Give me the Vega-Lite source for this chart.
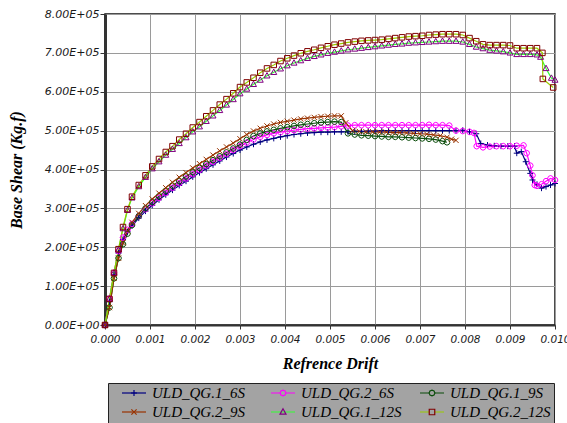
{
  "$schema": "https://vega.github.io/schema/vega-lite/v6.json",
  "width": 450,
  "height": 311,
  "autosize": {"type": "none"},
  "padding": {"left": 105, "top": 14, "right": 12, "bottom": 98},
  "background": "white",
  "config": {
    "view": {"stroke": "#111", "strokeWidth": 1.5},
    "axis": {
      "labelFont": "DejaVu Sans", "labelFontStyle": "italic", "labelFontSize": 10.5, "labelColor": "#1a1a1a",
      "titleFont": "Liberation Serif", "titleFontStyle": "italic", "titleFontWeight": "bold", "titleFontSize": 16, "titleColor": "#000",
      "gridColor": "#9a9a9a", "gridWidth": 1, "gridOpacity": 1,
      "tickColor": "#333", "domainColor": "#333"
    }
  },
  "resolve": {"legend": {"stroke": "independent", "shape": "independent"}},
  "data": {"values": [
{"s":"ULD_QG.1_6S","x":0,"y":0},{"s":"ULD_QG.1_6S","x":0.0001,"y":60000},{"s":"ULD_QG.1_6S","x":0.0002,"y":130000},{"s":"ULD_QG.1_6S","x":0.0003,"y":185000},{"s":"ULD_QG.1_6S","x":0.0004,"y":220000},{"s":"ULD_QG.1_6S","x":0.0005,"y":240000},{"s":"ULD_QG.1_6S","x":0.0006,"y":255000},{"s":"ULD_QG.1_6S","x":0.00075,"y":275000},{"s":"ULD_QG.1_6S","x":0.0009,"y":293000},{"s":"ULD_QG.1_6S","x":0.00105,"y":308000},{"s":"ULD_QG.1_6S","x":0.0012,"y":322000},{"s":"ULD_QG.1_6S","x":0.00135,"y":335000},{"s":"ULD_QG.1_6S","x":0.0015,"y":347000},{"s":"ULD_QG.1_6S","x":0.00165,"y":359000},{"s":"ULD_QG.1_6S","x":0.0018,"y":370000},{"s":"ULD_QG.1_6S","x":0.00195,"y":381000},{"s":"ULD_QG.1_6S","x":0.0021,"y":392000},{"s":"ULD_QG.1_6S","x":0.00225,"y":402000},{"s":"ULD_QG.1_6S","x":0.0024,"y":412000},{"s":"ULD_QG.1_6S","x":0.00255,"y":422000},{"s":"ULD_QG.1_6S","x":0.0027,"y":432000},{"s":"ULD_QG.1_6S","x":0.00285,"y":441000},{"s":"ULD_QG.1_6S","x":0.003,"y":450000},{"s":"ULD_QG.1_6S","x":0.00315,"y":458000},{"s":"ULD_QG.1_6S","x":0.0033,"y":465000},{"s":"ULD_QG.1_6S","x":0.00345,"y":471000},{"s":"ULD_QG.1_6S","x":0.0036,"y":476000},{"s":"ULD_QG.1_6S","x":0.00375,"y":480000},{"s":"ULD_QG.1_6S","x":0.0039,"y":484000},{"s":"ULD_QG.1_6S","x":0.00405,"y":487000},{"s":"ULD_QG.1_6S","x":0.0042,"y":490000},{"s":"ULD_QG.1_6S","x":0.00435,"y":492000},{"s":"ULD_QG.1_6S","x":0.0045,"y":494000},{"s":"ULD_QG.1_6S","x":0.00465,"y":495000},{"s":"ULD_QG.1_6S","x":0.0048,"y":496000},{"s":"ULD_QG.1_6S","x":0.00495,"y":496000},{"s":"ULD_QG.1_6S","x":0.0051,"y":497000},{"s":"ULD_QG.1_6S","x":0.00525,"y":497000},{"s":"ULD_QG.1_6S","x":0.0054,"y":497000},{"s":"ULD_QG.1_6S","x":0.00555,"y":498000},{"s":"ULD_QG.1_6S","x":0.0057,"y":498000},{"s":"ULD_QG.1_6S","x":0.00585,"y":499000},{"s":"ULD_QG.1_6S","x":0.006,"y":499000},{"s":"ULD_QG.1_6S","x":0.00615,"y":500000},{"s":"ULD_QG.1_6S","x":0.0063,"y":500000},{"s":"ULD_QG.1_6S","x":0.00645,"y":500000},{"s":"ULD_QG.1_6S","x":0.0066,"y":500000},{"s":"ULD_QG.1_6S","x":0.00675,"y":500000},{"s":"ULD_QG.1_6S","x":0.0069,"y":500000},{"s":"ULD_QG.1_6S","x":0.00705,"y":500000},{"s":"ULD_QG.1_6S","x":0.0072,"y":500000},{"s":"ULD_QG.1_6S","x":0.00735,"y":500000},{"s":"ULD_QG.1_6S","x":0.0075,"y":500000},{"s":"ULD_QG.1_6S","x":0.00765,"y":500000},{"s":"ULD_QG.1_6S","x":0.0078,"y":500000},{"s":"ULD_QG.1_6S","x":0.00795,"y":501000},{"s":"ULD_QG.1_6S","x":0.0081,"y":497000},{"s":"ULD_QG.1_6S","x":0.00825,"y":492000},{"s":"ULD_QG.1_6S","x":0.00835,"y":467000},{"s":"ULD_QG.1_6S","x":0.0085,"y":463000},{"s":"ULD_QG.1_6S","x":0.00865,"y":461000},{"s":"ULD_QG.1_6S","x":0.0088,"y":460000},{"s":"ULD_QG.1_6S","x":0.00895,"y":460000},{"s":"ULD_QG.1_6S","x":0.0091,"y":460000},{"s":"ULD_QG.1_6S","x":0.00915,"y":442000},{"s":"ULD_QG.1_6S","x":0.00925,"y":446000},{"s":"ULD_QG.1_6S","x":0.00935,"y":420000},{"s":"ULD_QG.1_6S","x":0.00945,"y":390000},{"s":"ULD_QG.1_6S","x":0.0095,"y":373000},{"s":"ULD_QG.1_6S","x":0.0096,"y":362000},{"s":"ULD_QG.1_6S","x":0.0097,"y":352000},{"s":"ULD_QG.1_6S","x":0.0098,"y":356000},{"s":"ULD_QG.1_6S","x":0.0099,"y":360000},{"s":"ULD_QG.1_6S","x":0.01,"y":364000},
{"s":"ULD_QG.2_6S","x":0,"y":0},{"s":"ULD_QG.2_6S","x":0.0001,"y":68000},{"s":"ULD_QG.2_6S","x":0.0002,"y":134000},{"s":"ULD_QG.2_6S","x":0.0003,"y":190000},{"s":"ULD_QG.2_6S","x":0.0004,"y":225000},{"s":"ULD_QG.2_6S","x":0.0005,"y":245000},{"s":"ULD_QG.2_6S","x":0.0006,"y":260000},{"s":"ULD_QG.2_6S","x":0.00075,"y":280000},{"s":"ULD_QG.2_6S","x":0.0009,"y":298000},{"s":"ULD_QG.2_6S","x":0.00105,"y":313000},{"s":"ULD_QG.2_6S","x":0.0012,"y":327000},{"s":"ULD_QG.2_6S","x":0.00135,"y":340000},{"s":"ULD_QG.2_6S","x":0.0015,"y":353000},{"s":"ULD_QG.2_6S","x":0.00165,"y":365000},{"s":"ULD_QG.2_6S","x":0.0018,"y":377000},{"s":"ULD_QG.2_6S","x":0.00195,"y":388000},{"s":"ULD_QG.2_6S","x":0.0021,"y":399000},{"s":"ULD_QG.2_6S","x":0.00225,"y":410000},{"s":"ULD_QG.2_6S","x":0.0024,"y":420000},{"s":"ULD_QG.2_6S","x":0.00255,"y":430000},{"s":"ULD_QG.2_6S","x":0.0027,"y":440000},{"s":"ULD_QG.2_6S","x":0.00285,"y":450000},{"s":"ULD_QG.2_6S","x":0.003,"y":460000},{"s":"ULD_QG.2_6S","x":0.00315,"y":469000},{"s":"ULD_QG.2_6S","x":0.0033,"y":477000},{"s":"ULD_QG.2_6S","x":0.00345,"y":484000},{"s":"ULD_QG.2_6S","x":0.0036,"y":489000},{"s":"ULD_QG.2_6S","x":0.00375,"y":493000},{"s":"ULD_QG.2_6S","x":0.0039,"y":496000},{"s":"ULD_QG.2_6S","x":0.00405,"y":499000},{"s":"ULD_QG.2_6S","x":0.0042,"y":501000},{"s":"ULD_QG.2_6S","x":0.00435,"y":503000},{"s":"ULD_QG.2_6S","x":0.0045,"y":505000},{"s":"ULD_QG.2_6S","x":0.00465,"y":506000},{"s":"ULD_QG.2_6S","x":0.0048,"y":507000},{"s":"ULD_QG.2_6S","x":0.00495,"y":508000},{"s":"ULD_QG.2_6S","x":0.0051,"y":509000},{"s":"ULD_QG.2_6S","x":0.00525,"y":511000},{"s":"ULD_QG.2_6S","x":0.0054,"y":513000},{"s":"ULD_QG.2_6S","x":0.00555,"y":514000},{"s":"ULD_QG.2_6S","x":0.0057,"y":514000},{"s":"ULD_QG.2_6S","x":0.00585,"y":514000},{"s":"ULD_QG.2_6S","x":0.006,"y":514000},{"s":"ULD_QG.2_6S","x":0.00615,"y":514000},{"s":"ULD_QG.2_6S","x":0.0063,"y":514000},{"s":"ULD_QG.2_6S","x":0.00645,"y":514000},{"s":"ULD_QG.2_6S","x":0.0066,"y":514000},{"s":"ULD_QG.2_6S","x":0.00675,"y":514000},{"s":"ULD_QG.2_6S","x":0.0069,"y":514000},{"s":"ULD_QG.2_6S","x":0.00705,"y":514000},{"s":"ULD_QG.2_6S","x":0.0072,"y":515000},{"s":"ULD_QG.2_6S","x":0.00735,"y":514000},{"s":"ULD_QG.2_6S","x":0.0075,"y":514000},{"s":"ULD_QG.2_6S","x":0.00765,"y":513000},{"s":"ULD_QG.2_6S","x":0.0078,"y":500000},{"s":"ULD_QG.2_6S","x":0.00795,"y":499000},{"s":"ULD_QG.2_6S","x":0.0081,"y":497000},{"s":"ULD_QG.2_6S","x":0.0082,"y":494000},{"s":"ULD_QG.2_6S","x":0.00826,"y":460000},{"s":"ULD_QG.2_6S","x":0.0084,"y":457000},{"s":"ULD_QG.2_6S","x":0.00855,"y":459000},{"s":"ULD_QG.2_6S","x":0.0087,"y":460000},{"s":"ULD_QG.2_6S","x":0.00885,"y":460000},{"s":"ULD_QG.2_6S","x":0.009,"y":460000},{"s":"ULD_QG.2_6S","x":0.00915,"y":461000},{"s":"ULD_QG.2_6S","x":0.0093,"y":462000},{"s":"ULD_QG.2_6S","x":0.00937,"y":442000},{"s":"ULD_QG.2_6S","x":0.00945,"y":410000},{"s":"ULD_QG.2_6S","x":0.0095,"y":385000},{"s":"ULD_QG.2_6S","x":0.00955,"y":360000},{"s":"ULD_QG.2_6S","x":0.0096,"y":358000},{"s":"ULD_QG.2_6S","x":0.0097,"y":362000},{"s":"ULD_QG.2_6S","x":0.0098,"y":370000},{"s":"ULD_QG.2_6S","x":0.0099,"y":377000},{"s":"ULD_QG.2_6S","x":0.01,"y":373000},
{"s":"ULD_QG.1_9S","x":0,"y":0},{"s":"ULD_QG.1_9S","x":0.0001,"y":45000},{"s":"ULD_QG.1_9S","x":0.0002,"y":120000},{"s":"ULD_QG.1_9S","x":0.0003,"y":172000},{"s":"ULD_QG.1_9S","x":0.0004,"y":208000},{"s":"ULD_QG.1_9S","x":0.0005,"y":235000},{"s":"ULD_QG.1_9S","x":0.0006,"y":257000},{"s":"ULD_QG.1_9S","x":0.00075,"y":280000},{"s":"ULD_QG.1_9S","x":0.0009,"y":300000},{"s":"ULD_QG.1_9S","x":0.00105,"y":316000},{"s":"ULD_QG.1_9S","x":0.0012,"y":331000},{"s":"ULD_QG.1_9S","x":0.00135,"y":345000},{"s":"ULD_QG.1_9S","x":0.0015,"y":358000},{"s":"ULD_QG.1_9S","x":0.00165,"y":370000},{"s":"ULD_QG.1_9S","x":0.0018,"y":382000},{"s":"ULD_QG.1_9S","x":0.00195,"y":393000},{"s":"ULD_QG.1_9S","x":0.0021,"y":404000},{"s":"ULD_QG.1_9S","x":0.00225,"y":414000},{"s":"ULD_QG.1_9S","x":0.0024,"y":424000},{"s":"ULD_QG.1_9S","x":0.00255,"y":434000},{"s":"ULD_QG.1_9S","x":0.0027,"y":444000},{"s":"ULD_QG.1_9S","x":0.00285,"y":454000},{"s":"ULD_QG.1_9S","x":0.003,"y":464000},{"s":"ULD_QG.1_9S","x":0.00315,"y":476000},{"s":"ULD_QG.1_9S","x":0.0033,"y":486000},{"s":"ULD_QG.1_9S","x":0.00345,"y":493000},{"s":"ULD_QG.1_9S","x":0.0036,"y":498000},{"s":"ULD_QG.1_9S","x":0.00375,"y":502000},{"s":"ULD_QG.1_9S","x":0.0039,"y":506000},{"s":"ULD_QG.1_9S","x":0.00405,"y":509000},{"s":"ULD_QG.1_9S","x":0.0042,"y":512000},{"s":"ULD_QG.1_9S","x":0.00435,"y":515000},{"s":"ULD_QG.1_9S","x":0.0045,"y":517000},{"s":"ULD_QG.1_9S","x":0.00465,"y":519000},{"s":"ULD_QG.1_9S","x":0.0048,"y":521000},{"s":"ULD_QG.1_9S","x":0.00495,"y":522000},{"s":"ULD_QG.1_9S","x":0.0051,"y":523000},{"s":"ULD_QG.1_9S","x":0.00525,"y":522000},{"s":"ULD_QG.1_9S","x":0.0054,"y":493000},{"s":"ULD_QG.1_9S","x":0.00555,"y":490000},{"s":"ULD_QG.1_9S","x":0.0057,"y":488000},{"s":"ULD_QG.1_9S","x":0.00585,"y":487000},{"s":"ULD_QG.1_9S","x":0.006,"y":486000},{"s":"ULD_QG.1_9S","x":0.00615,"y":485000},{"s":"ULD_QG.1_9S","x":0.0063,"y":484000},{"s":"ULD_QG.1_9S","x":0.00645,"y":484000},{"s":"ULD_QG.1_9S","x":0.0066,"y":483000},{"s":"ULD_QG.1_9S","x":0.00675,"y":482000},{"s":"ULD_QG.1_9S","x":0.0069,"y":481000},{"s":"ULD_QG.1_9S","x":0.00705,"y":480000},{"s":"ULD_QG.1_9S","x":0.0072,"y":479000},{"s":"ULD_QG.1_9S","x":0.00735,"y":477000},{"s":"ULD_QG.1_9S","x":0.0075,"y":473000},{"s":"ULD_QG.1_9S","x":0.0076,"y":470000},
{"s":"ULD_QG.2_9S","x":0,"y":0},{"s":"ULD_QG.2_9S","x":0.0001,"y":45000},{"s":"ULD_QG.2_9S","x":0.0002,"y":120000},{"s":"ULD_QG.2_9S","x":0.0003,"y":172000},{"s":"ULD_QG.2_9S","x":0.0004,"y":212000},{"s":"ULD_QG.2_9S","x":0.0005,"y":242000},{"s":"ULD_QG.2_9S","x":0.0006,"y":264000},{"s":"ULD_QG.2_9S","x":0.00075,"y":287000},{"s":"ULD_QG.2_9S","x":0.0009,"y":307000},{"s":"ULD_QG.2_9S","x":0.00105,"y":324000},{"s":"ULD_QG.2_9S","x":0.0012,"y":339000},{"s":"ULD_QG.2_9S","x":0.00135,"y":353000},{"s":"ULD_QG.2_9S","x":0.0015,"y":367000},{"s":"ULD_QG.2_9S","x":0.00165,"y":380000},{"s":"ULD_QG.2_9S","x":0.0018,"y":392000},{"s":"ULD_QG.2_9S","x":0.00195,"y":404000},{"s":"ULD_QG.2_9S","x":0.0021,"y":415000},{"s":"ULD_QG.2_9S","x":0.00225,"y":426000},{"s":"ULD_QG.2_9S","x":0.0024,"y":437000},{"s":"ULD_QG.2_9S","x":0.00255,"y":448000},{"s":"ULD_QG.2_9S","x":0.0027,"y":458000},{"s":"ULD_QG.2_9S","x":0.00285,"y":468000},{"s":"ULD_QG.2_9S","x":0.003,"y":479000},{"s":"ULD_QG.2_9S","x":0.00315,"y":490000},{"s":"ULD_QG.2_9S","x":0.0033,"y":499000},{"s":"ULD_QG.2_9S","x":0.00345,"y":506000},{"s":"ULD_QG.2_9S","x":0.0036,"y":512000},{"s":"ULD_QG.2_9S","x":0.00375,"y":517000},{"s":"ULD_QG.2_9S","x":0.0039,"y":521000},{"s":"ULD_QG.2_9S","x":0.00405,"y":524000},{"s":"ULD_QG.2_9S","x":0.0042,"y":527000},{"s":"ULD_QG.2_9S","x":0.00435,"y":530000},{"s":"ULD_QG.2_9S","x":0.0045,"y":532000},{"s":"ULD_QG.2_9S","x":0.00465,"y":534000},{"s":"ULD_QG.2_9S","x":0.0048,"y":536000},{"s":"ULD_QG.2_9S","x":0.00495,"y":537000},{"s":"ULD_QG.2_9S","x":0.0051,"y":538000},{"s":"ULD_QG.2_9S","x":0.00525,"y":538000},{"s":"ULD_QG.2_9S","x":0.00535,"y":520000},{"s":"ULD_QG.2_9S","x":0.0055,"y":500000},{"s":"ULD_QG.2_9S","x":0.00565,"y":498000},{"s":"ULD_QG.2_9S","x":0.0058,"y":497000},{"s":"ULD_QG.2_9S","x":0.00595,"y":497000},{"s":"ULD_QG.2_9S","x":0.0061,"y":496000},{"s":"ULD_QG.2_9S","x":0.00625,"y":496000},{"s":"ULD_QG.2_9S","x":0.0064,"y":495000},{"s":"ULD_QG.2_9S","x":0.00655,"y":495000},{"s":"ULD_QG.2_9S","x":0.0067,"y":494000},{"s":"ULD_QG.2_9S","x":0.00685,"y":493000},{"s":"ULD_QG.2_9S","x":0.007,"y":492000},{"s":"ULD_QG.2_9S","x":0.00715,"y":491000},{"s":"ULD_QG.2_9S","x":0.0073,"y":489000},{"s":"ULD_QG.2_9S","x":0.00745,"y":487000},{"s":"ULD_QG.2_9S","x":0.0076,"y":483000},{"s":"ULD_QG.2_9S","x":0.0077,"y":478000},{"s":"ULD_QG.2_9S","x":0.0078,"y":475000},
{"s":"ULD_QG.1_12S","x":0,"y":0},{"s":"ULD_QG.1_12S","x":0.0001,"y":67000},{"s":"ULD_QG.1_12S","x":0.0002,"y":134000},{"s":"ULD_QG.1_12S","x":0.0003,"y":193000},{"s":"ULD_QG.1_12S","x":0.0004,"y":248000},{"s":"ULD_QG.1_12S","x":0.0005,"y":295000},{"s":"ULD_QG.1_12S","x":0.0006,"y":327000},{"s":"ULD_QG.1_12S","x":0.00075,"y":356000},{"s":"ULD_QG.1_12S","x":0.0009,"y":380000},{"s":"ULD_QG.1_12S","x":0.00105,"y":402000},{"s":"ULD_QG.1_12S","x":0.0012,"y":420000},{"s":"ULD_QG.1_12S","x":0.00135,"y":437000},{"s":"ULD_QG.1_12S","x":0.0015,"y":452000},{"s":"ULD_QG.1_12S","x":0.00165,"y":467000},{"s":"ULD_QG.1_12S","x":0.0018,"y":482000},{"s":"ULD_QG.1_12S","x":0.00195,"y":497000},{"s":"ULD_QG.1_12S","x":0.0021,"y":510000},{"s":"ULD_QG.1_12S","x":0.00225,"y":524000},{"s":"ULD_QG.1_12S","x":0.0024,"y":538000},{"s":"ULD_QG.1_12S","x":0.00255,"y":552000},{"s":"ULD_QG.1_12S","x":0.0027,"y":566000},{"s":"ULD_QG.1_12S","x":0.00285,"y":580000},{"s":"ULD_QG.1_12S","x":0.003,"y":595000},{"s":"ULD_QG.1_12S","x":0.00315,"y":607000},{"s":"ULD_QG.1_12S","x":0.0033,"y":619000},{"s":"ULD_QG.1_12S","x":0.00345,"y":630000},{"s":"ULD_QG.1_12S","x":0.0036,"y":641000},{"s":"ULD_QG.1_12S","x":0.00375,"y":650000},{"s":"ULD_QG.1_12S","x":0.0039,"y":659000},{"s":"ULD_QG.1_12S","x":0.00405,"y":667000},{"s":"ULD_QG.1_12S","x":0.0042,"y":674000},{"s":"ULD_QG.1_12S","x":0.00435,"y":680000},{"s":"ULD_QG.1_12S","x":0.0045,"y":686000},{"s":"ULD_QG.1_12S","x":0.00465,"y":691000},{"s":"ULD_QG.1_12S","x":0.0048,"y":695000},{"s":"ULD_QG.1_12S","x":0.00495,"y":699000},{"s":"ULD_QG.1_12S","x":0.0051,"y":702000},{"s":"ULD_QG.1_12S","x":0.00525,"y":705000},{"s":"ULD_QG.1_12S","x":0.0054,"y":708000},{"s":"ULD_QG.1_12S","x":0.00555,"y":710000},{"s":"ULD_QG.1_12S","x":0.0057,"y":712000},{"s":"ULD_QG.1_12S","x":0.00585,"y":714000},{"s":"ULD_QG.1_12S","x":0.006,"y":716000},{"s":"ULD_QG.1_12S","x":0.00615,"y":718000},{"s":"ULD_QG.1_12S","x":0.0063,"y":720000},{"s":"ULD_QG.1_12S","x":0.00645,"y":722000},{"s":"ULD_QG.1_12S","x":0.0066,"y":723000},{"s":"ULD_QG.1_12S","x":0.00675,"y":725000},{"s":"ULD_QG.1_12S","x":0.0069,"y":726000},{"s":"ULD_QG.1_12S","x":0.00705,"y":727000},{"s":"ULD_QG.1_12S","x":0.0072,"y":728000},{"s":"ULD_QG.1_12S","x":0.00735,"y":729000},{"s":"ULD_QG.1_12S","x":0.0075,"y":730000},{"s":"ULD_QG.1_12S","x":0.00765,"y":730000},{"s":"ULD_QG.1_12S","x":0.0078,"y":730000},{"s":"ULD_QG.1_12S","x":0.00795,"y":728000},{"s":"ULD_QG.1_12S","x":0.0081,"y":722000},{"s":"ULD_QG.1_12S","x":0.00825,"y":715000},{"s":"ULD_QG.1_12S","x":0.0084,"y":711000},{"s":"ULD_QG.1_12S","x":0.00855,"y":707000},{"s":"ULD_QG.1_12S","x":0.0087,"y":705000},{"s":"ULD_QG.1_12S","x":0.00885,"y":703000},{"s":"ULD_QG.1_12S","x":0.009,"y":700000},{"s":"ULD_QG.1_12S","x":0.00915,"y":696000},{"s":"ULD_QG.1_12S","x":0.0093,"y":696000},{"s":"ULD_QG.1_12S","x":0.00945,"y":696000},{"s":"ULD_QG.1_12S","x":0.0096,"y":695000},{"s":"ULD_QG.1_12S","x":0.00968,"y":689000},{"s":"ULD_QG.1_12S","x":0.0098,"y":660000},{"s":"ULD_QG.1_12S","x":0.00992,"y":635000},{"s":"ULD_QG.1_12S","x":0.01,"y":630000},
{"s":"ULD_QG.2_12S","x":0,"y":0},{"s":"ULD_QG.2_12S","x":0.0001,"y":67000},{"s":"ULD_QG.2_12S","x":0.0002,"y":134000},{"s":"ULD_QG.2_12S","x":0.0003,"y":195000},{"s":"ULD_QG.2_12S","x":0.0004,"y":252000},{"s":"ULD_QG.2_12S","x":0.0005,"y":298000},{"s":"ULD_QG.2_12S","x":0.0006,"y":330000},{"s":"ULD_QG.2_12S","x":0.00075,"y":360000},{"s":"ULD_QG.2_12S","x":0.0009,"y":385000},{"s":"ULD_QG.2_12S","x":0.00105,"y":408000},{"s":"ULD_QG.2_12S","x":0.0012,"y":427000},{"s":"ULD_QG.2_12S","x":0.00135,"y":445000},{"s":"ULD_QG.2_12S","x":0.0015,"y":460000},{"s":"ULD_QG.2_12S","x":0.00165,"y":477000},{"s":"ULD_QG.2_12S","x":0.0018,"y":492000},{"s":"ULD_QG.2_12S","x":0.00195,"y":508000},{"s":"ULD_QG.2_12S","x":0.0021,"y":522000},{"s":"ULD_QG.2_12S","x":0.00225,"y":537000},{"s":"ULD_QG.2_12S","x":0.0024,"y":552000},{"s":"ULD_QG.2_12S","x":0.00255,"y":567000},{"s":"ULD_QG.2_12S","x":0.0027,"y":581000},{"s":"ULD_QG.2_12S","x":0.00285,"y":596000},{"s":"ULD_QG.2_12S","x":0.003,"y":612000},{"s":"ULD_QG.2_12S","x":0.00315,"y":624000},{"s":"ULD_QG.2_12S","x":0.0033,"y":636000},{"s":"ULD_QG.2_12S","x":0.00345,"y":649000},{"s":"ULD_QG.2_12S","x":0.0036,"y":660000},{"s":"ULD_QG.2_12S","x":0.00375,"y":669000},{"s":"ULD_QG.2_12S","x":0.0039,"y":679000},{"s":"ULD_QG.2_12S","x":0.00405,"y":686000},{"s":"ULD_QG.2_12S","x":0.0042,"y":693000},{"s":"ULD_QG.2_12S","x":0.00435,"y":699000},{"s":"ULD_QG.2_12S","x":0.0045,"y":704000},{"s":"ULD_QG.2_12S","x":0.00465,"y":708000},{"s":"ULD_QG.2_12S","x":0.0048,"y":713000},{"s":"ULD_QG.2_12S","x":0.00495,"y":717000},{"s":"ULD_QG.2_12S","x":0.0051,"y":721000},{"s":"ULD_QG.2_12S","x":0.00525,"y":724000},{"s":"ULD_QG.2_12S","x":0.0054,"y":727000},{"s":"ULD_QG.2_12S","x":0.00555,"y":729000},{"s":"ULD_QG.2_12S","x":0.0057,"y":731000},{"s":"ULD_QG.2_12S","x":0.00585,"y":732000},{"s":"ULD_QG.2_12S","x":0.006,"y":733000},{"s":"ULD_QG.2_12S","x":0.00615,"y":734000},{"s":"ULD_QG.2_12S","x":0.0063,"y":736000},{"s":"ULD_QG.2_12S","x":0.00645,"y":738000},{"s":"ULD_QG.2_12S","x":0.0066,"y":740000},{"s":"ULD_QG.2_12S","x":0.00675,"y":742000},{"s":"ULD_QG.2_12S","x":0.0069,"y":743000},{"s":"ULD_QG.2_12S","x":0.00705,"y":744000},{"s":"ULD_QG.2_12S","x":0.0072,"y":746000},{"s":"ULD_QG.2_12S","x":0.00735,"y":747000},{"s":"ULD_QG.2_12S","x":0.0075,"y":748000},{"s":"ULD_QG.2_12S","x":0.00765,"y":748000},{"s":"ULD_QG.2_12S","x":0.0078,"y":748000},{"s":"ULD_QG.2_12S","x":0.00795,"y":746000},{"s":"ULD_QG.2_12S","x":0.0081,"y":738000},{"s":"ULD_QG.2_12S","x":0.00825,"y":730000},{"s":"ULD_QG.2_12S","x":0.0084,"y":722000},{"s":"ULD_QG.2_12S","x":0.00855,"y":720000},{"s":"ULD_QG.2_12S","x":0.0087,"y":720000},{"s":"ULD_QG.2_12S","x":0.00885,"y":720000},{"s":"ULD_QG.2_12S","x":0.009,"y":719000},{"s":"ULD_QG.2_12S","x":0.00915,"y":712000},{"s":"ULD_QG.2_12S","x":0.0093,"y":712000},{"s":"ULD_QG.2_12S","x":0.00945,"y":712000},{"s":"ULD_QG.2_12S","x":0.0096,"y":712000},{"s":"ULD_QG.2_12S","x":0.00972,"y":700000},{"s":"ULD_QG.2_12S","x":0.00973,"y":633000},{"s":"ULD_QG.2_12S","x":0.00996,"y":611000}
  ]},
  "encoding": {
    "x": {"field": "x", "type": "quantitative",
      "scale": {"domain": [0, 0.01], "nice": false, "zero": false},
      "axis": {"title": "Refrence Drift", "values": [0,0.001,0.002,0.003,0.004,0.005,0.006,0.007,0.008,0.009,0.01], "format": ".3f",
        "tickSize": 4, "labelPadding": 5, "titlePadding": 11, "domainWidth": 2, "labelOverlap": false, "labelBound": false, "labelFlush": false}},
    "y": {"field": "y", "type": "quantitative",
      "scale": {"domain": [0, 800000], "nice": false},
      "axis": {"title": "Base Shear (Kg.f)", "values": [0,100000,200000,300000,400000,500000,600000,700000,800000],
        "labelExpr": "datum.value == 0 ? '0.00E+00' : format(datum.value / 100000, '.2f') + 'E+05'",
        "tickSize": 5, "labelPadding": 1, "labelFontSize": 11, "titlePadding": 20, "domainWidth": 3}}
  },
  "layer": [
    {
      "mark": {"type": "line", "strokeWidth": 1.2},
      "encoding": {
        "color": {"field": "s", "type": "nominal",
          "scale": {"domain": ["ULD_QG.1_6S","ULD_QG.2_6S","ULD_QG.1_9S","ULD_QG.2_9S","ULD_QG.1_12S","ULD_QG.2_12S"],
                    "range": ["#000080","#ff00ff","#0b4d0b","#993300","#33ff33","#99cc00"]},
          "legend": {"orient": "none", "legendX": 3, "legendY": 369, "zindex": 1, "direction": "horizontal", "columns": 3, "title": null,
            "symbolType": "stroke", "symbolSize": 576, "symbolStrokeWidth": 1.2, "symbolOffset": 10, "labelOffset": 5,
            "clipHeight": 14, "rowPadding": 4, "columnPadding": 7, "gridAlign": "all", "padding": 3,
            "fillColor": "#a3a3a3", "strokeColor": "#222",
            "labelFont": "Liberation Serif", "labelFontStyle": "italic", "labelFontSize": 15, "labelColor": "#000", "labelLimit": 200,
            "encode": {"symbols": {"update": {
              "shape": {"signal": "(datum.value === 'ULD_QG.2_6S' || datum.value === 'ULD_QG.1_9S' || datum.value === 'ULD_QG.2_12S') ? 'M-1,0H-0.24M0.24,0H1' : 'M-1,0H1'"},
              "fill": {"value": "transparent"}
            }}}}}
      }
    },
    {
      "mark": {"type": "point", "filled": false, "size": 576, "strokeWidth": 1, "opacity": 1},
      "encoding": {
        "stroke": {"field": "s", "type": "nominal",
          "scale": {"domain": ["ULD_QG.1_6S","ULD_QG.2_6S","ULD_QG.1_9S","ULD_QG.2_9S","ULD_QG.1_12S","ULD_QG.2_12S"],
                    "range": ["#000080","#ff00ff","#0b4d0b","#993300","#800080","#800000"]},
          "legend": {"orient": "none", "legendX": 3, "legendY": 369, "zindex": 2, "direction": "horizontal", "columns": 3, "title": null,
            "symbolSize": 576, "symbolStrokeWidth": 1.2, "symbolOffset": 10, "labelOffset": 5,
            "clipHeight": 14, "rowPadding": 4, "columnPadding": 7, "gridAlign": "all", "padding": 3,
            "labelFont": "Liberation Serif", "labelFontStyle": "italic", "labelFontSize": 15, "labelOpacity": 0, "labelLimit": 200}},
        "shape": {"field": "s", "type": "nominal",
          "scale": {"domain": ["ULD_QG.1_6S","ULD_QG.2_6S","ULD_QG.1_9S","ULD_QG.2_9S","ULD_QG.1_12S","ULD_QG.2_12S"],
                    "range": ["M-0.25,0H0.25M0,-0.25V0.25",
                              "M0.24,0L0.17,0.17L0,0.24L-0.17,0.17L-0.24,0L-0.17,-0.17L0,-0.24L0.17,-0.17Z",
                              "M0.24,0L0.17,0.17L0,0.24L-0.17,0.17L-0.24,0L-0.17,-0.17L0,-0.24L0.17,-0.17Z",
                              "M-0.22,-0.22L0.22,0.22M-0.22,0.22L0.22,-0.22",
                              "M0,-0.27L0.25,0.18L-0.25,0.18Z",
                              "M-0.23,-0.23H0.23V0.23H-0.23Z"]},
          "legend": {"orient": "none", "legendX": 3, "legendY": 369, "zindex": 2, "direction": "horizontal", "columns": 3, "title": null,
            "symbolSize": 576, "symbolStrokeWidth": 1.2, "symbolOffset": 10, "labelOffset": 5,
            "clipHeight": 14, "rowPadding": 4, "columnPadding": 7, "gridAlign": "all", "padding": 3,
            "labelFont": "Liberation Serif", "labelFontStyle": "italic", "labelFontSize": 15, "labelOpacity": 0, "labelLimit": 200}}
      }
    }
  ]
}
